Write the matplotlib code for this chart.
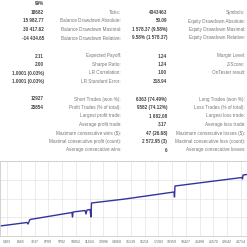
import matplotlib
matplotlib.use('Agg')
import matplotlib.pyplot as plt

plt.rcParams['font.family'] = ['Liberation Sans', 'DejaVu Sans']

# 报告表格数据
col1_values = ['99%', '18682', '15 982.77', '30 417.62', '-14 434.65',
               '2.11', '2.00', '1.0001 (0.03%)', '1.0001 (0.03%)',
               '12927', '25854', '', '', '', '', '']
col1_labels = ['', 'Ticks:', 'Balance Drawdown Absolute:', 'Balance Drawdown Maximal:',
               'Balance Drawdown Relative:',
               'Expected Payoff:', 'Sharpe Ratio:', 'LR Correlation:', 'LR Standard Error:',
               'Short Trades (won %):', 'Profit Trades (% of total):', 'Largest profit trade:',
               'Average profit trade:', 'Maximum consecutive wins ($):',
               'Maximal consecutive profit (count):', 'Average consecutive wins:']
col2_values = ['', '4343463', '50.09', '1 578.37 (9.58%)', '9.58% (1 578.37)',
               '1.24', '1.24', '1.00', '318.94',
               '6363 (74.49%)', '9582 (74.12%)', '1 682.08', '3.17', '47 (26.68)',
               '2 572.95 (3)', '6']
col2_labels = ['', 'Symbols:', 'Equity Drawdown Absolute:', 'Equity Drawdown Maximal:',
               'Equity Drawdown Relative:',
               'Margin Level:', 'Z-Score:', 'OnTester result:', '',
               'Long Trades (won %):', 'Loss Trades (% of total):', 'Largest loss trade:',
               'Average loss trade:', 'Maximum consecutive losses ($):',
               'Maximal consecutive loss (count):', 'Average consecutive losses:']
row_y = [3.5, 12.5, 21, 29.5, 38, 56, 64.5, 73, 81.5, 99, 107.5, 116, 124.5, 133, 141.5, 150]

# 余额曲线数据
trades = [4948, 7050, 7128, 7284, 10555, 10594, 10633, 11567, 11645, 11723, 11956,
          12034, 12073, 14682, 18498, 18537, 18575, 23793, 23832, 23871, 24182]
balance = [2667, 3600, 3200, 4400, 6267, 5067, 6400, 6800, 5867, 6933, 7067,
           5067, 8800, 9867, 11733, 10400, 13333, 15600, 15200, 16267, 16400]
tick_vals = [5493, 6565, 7637, 8709, 9782, 10852, 11924, 12996, 14068, 15139,
             16211, 17283, 18359, 19427, 20498, 21570, 22642, 23714]

W = 247
fig = plt.figure(figsize=(2.47, 2.47), dpi=100)

def px(x, y):
    return x / W, 1 - y / W

fs = 3.3
for v, l, v2, l2, y in zip(col1_values, col1_labels, col2_values, col2_labels, row_y):
    fig.text(*px(44, y), v, ha='right', va='center', fontsize=fs, fontweight='bold', color='#444444')
    fig.text(*px(121, y), l, ha='right', va='center', fontsize=fs, color='#777777')
    fig.text(*px(167, y), v2, ha='right', va='center', fontsize=fs, fontweight='bold', color='#444444')
    fig.text(*px(245, y), l2, ha='right', va='center', fontsize=fs, color='#777777')

ax = fig.add_axes([0, (W - 236) / W, 1, 75 / W])
ax.plot(trades, balance, color='#34349c', lw=1.0)
ax.set_xlim(4948, 24182)
ax.set_ylim(0, 20000)
ax.set_xticks(tick_vals)
ax.set_xticklabels([str(t) for t in tick_vals], fontsize=2.6, color='#666666')
ax.set_yticks([0, 5000, 10000, 15000, 20000])
ax.set_yticklabels([])
ax.tick_params(length=0, pad=3)
ax.grid(True, color='#e4e4e4', lw=0.5)
for s in ax.spines.values():
    s.set_color('#cccccc')
    s.set_linewidth(0.6)

fig.savefig('out.png', dpi=100)
